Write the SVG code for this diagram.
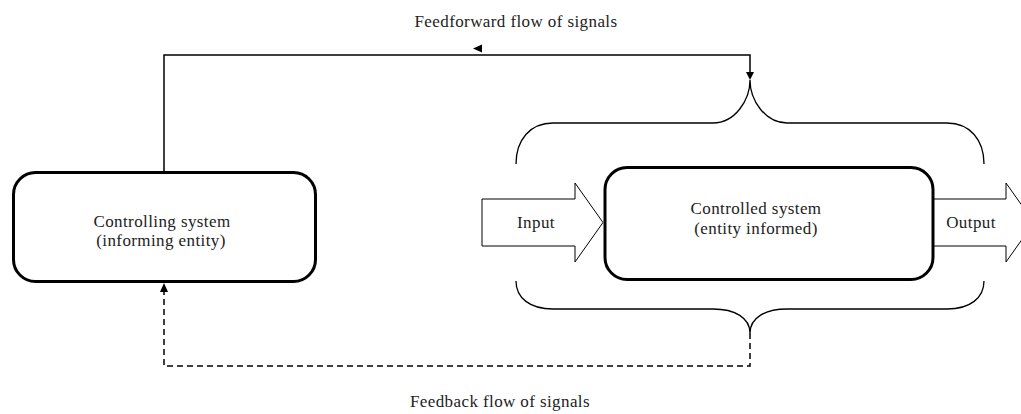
<svg xmlns="http://www.w3.org/2000/svg" width="1021" height="414" viewBox="0 0 1021 414">
<style>
text{font-family:"Liberation Serif","Times New Roman",serif;font-size:17px;fill:#222;letter-spacing:0.4px;text-anchor:middle}
.box{fill:#fff;stroke:#000;stroke-width:3}
.brace{fill:none;stroke:#000;stroke-width:1.3}
.arrow{fill:#fff;stroke:#000;stroke-width:1}
.line{fill:none;stroke:#000;stroke-width:1.5}
.dash{fill:none;stroke:#000;stroke-width:1.5;stroke-dasharray:6 4}
.head{fill:#000}
</style>
<rect width="1021" height="414" fill="#fff"/>
<g id="connectors">
<polyline class="line" points="164,172 164,55 750,55 750,74"/>
<polygon class="head" points="473,48.5 482,44.5 482,52.5"/>
<polygon class="head" points="750,80 746,72 754,72"/>
<polyline class="dash" points="750,333 750,366 164,366 164,291"/>
<polygon class="head" points="164,283 160,292 168,292"/>
</g>
<g id="brace-top">
<path class="brace" d="M516,164 C516,140 530,123 553,123 L713,123 C735,123 750,100 750,80 C750,100 765,123 787,123 L947,123 C970,123 984,140 984,164"/>
</g>
<g id="brace-bottom">
<path class="brace" d="M516,281 C516,298 530,309 553,309 L713,309 C735,309 750,318 750,333 C750,318 765,309 787,309 L947,309 C970,309 984,298 984,281"/>
</g>
<g id="controlling">
<rect class="box" x="13.5" y="172.5" width="302" height="109" rx="22"/>
<text x="162" y="227">Controlling system</text>
<text x="161" y="246">(informing entity)</text>
</g>
<g id="input">
<polygon class="arrow" points="482,199 575,199 575,183 603,222.5 575,262 575,246 482,246"/>
<text x="536" y="228">Input</text>
</g>
<g id="controlled">
<rect class="box" x="605" y="167.5" width="328" height="112" rx="22"/>
<text x="756" y="214">Controlled system</text>
<text x="756" y="234">(entity informed)</text>
</g>
<g id="output">
<polygon class="arrow" points="934,199 1006,199 1006,183 1034,222.5 1006,262 1006,246 934,246"/>
<text x="971" y="228">Output</text>
</g>
<g id="labels">
<text x="516" y="27">Feedforward flow of signals</text>
<text x="500" y="407">Feedback flow of signals</text>
</g>
</svg>
